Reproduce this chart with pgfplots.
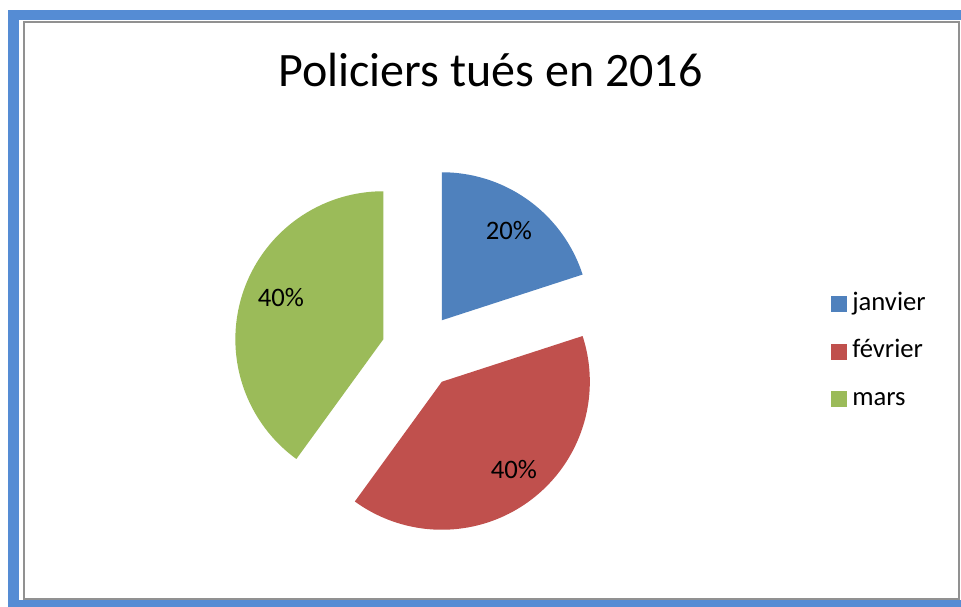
\documentclass[border=0pt]{standalone}
\usepackage{pgfplots}
\pgfplotsset{compat=1.18}
\usepackage{fontspec}
\setmainfont{Carlito}
\definecolor{cjan}{RGB}{79,129,189}
\definecolor{cfev}{RGB}{192,80,77}
\definecolor{cmar}{RGB}{155,187,89}
\definecolor{frameblue}{RGB}{85,140,212}
\definecolor{framegray}{RGB}{145,145,145}
\begin{document}
\begin{tikzpicture}
% data: share of each month (percent)
\def\va{20}\def\vb{40}\def\vc{40}
% geometry in pixel units
\def\cx{419.5}\def\cy{351}\def\R{148}\def\D{38}
\pgfmathsetmacro\aA{90}
\pgfmathsetmacro\aB{\aA-3.6*\va}
\pgfmathsetmacro\aC{\aB-3.6*\vb}
\pgfmathsetmacro\aD{\aC-3.6*\vc}
\pgfmathsetmacro\mA{(\aA+\aB)/2}
\pgfmathsetmacro\mB{(\aB+\aC)/2}
\pgfmathsetmacro\mC{(\aC+\aD)/2}
\pgfmathsetmacro\oxA{\cx+\D*cos(\mA)}\pgfmathsetmacro\oyA{\cy-\D*sin(\mA)}
\pgfmathsetmacro\oxB{\cx+\D*cos(\mB)}\pgfmathsetmacro\oyB{\cy-\D*sin(\mB)}
\pgfmathsetmacro\oxC{\cx+\D*cos(\mC)}\pgfmathsetmacro\oyC{\cy-\D*sin(\mC)}
\begin{axis}[
  scale only axis, width=720.75pt, height=455.25pt,
  xmin=0, xmax=961, ymin=0, ymax=607, y dir=reverse,
  hide axis, clip=false,
  legend image code/.code={\fill[#1] (0pt,-6pt) rectangle (12pt,6pt);},
  legend style={at={(axis cs:831,351.5)}, anchor=west, draw=none, fill=none,
    inner sep=0pt, row sep=17pt, column sep=3.75pt,
    font=\fontsize{20}{24}\selectfont,
    nodes={inner sep=0pt, text height=14pt, text depth=4.5pt}},
  legend cell align=left,
]
\path (axis cs:0,0) rectangle (axis cs:961,607);
\fill[frameblue] (axis cs:8,10) rectangle (axis cs:961,607);
\fill[white] (axis cs:19,20) rectangle (axis cs:961,600);
\draw[framegray, line width=1.5pt] (axis cs:24,599) -- (axis cs:24,22) -- (axis cs:959,22) -- (axis cs:959,599) -- cycle;

\addplot[fill=cjan, draw=none, domain=\aB:\aA, samples=90, variable=\t]
  ({\oxA+\R*cos(\t)}, {\oyA-\R*sin(\t)}) -- (axis cs:\oxA,\oyA) -- cycle;
\addlegendentry{janvier}
\addplot[fill=cfev, draw=none, domain=\aC:\aB, samples=120, variable=\t]
  ({\oxB+\R*cos(\t)}, {\oyB-\R*sin(\t)}) -- (axis cs:\oxB,\oyB) -- cycle;
\addlegendentry{février}
\addplot[fill=cmar, draw=none, domain=\aD:\aC, samples=120, variable=\t]
  ({\oxC+\R*cos(\t)}, {\oyC-\R*sin(\t)}) -- (axis cs:\oxC,\oyC) -- cycle;
\addlegendentry{mars}

\node[anchor=base, font=\fontsize{36}{40}\selectfont] at (axis cs:490.5,86) {Policiers tués en 2016};
\node[font=\fontsize{20}{24}\selectfont, inner sep=0pt] at (axis cs:509,231) {20\%};
\node[font=\fontsize{20}{24}\selectfont, inner sep=0pt] at (axis cs:514,470) {40\%};
\node[font=\fontsize{20}{24}\selectfont, inner sep=0pt] at (axis cs:281,297.5) {40\%};
\end{axis}
\end{tikzpicture}
\end{document}
